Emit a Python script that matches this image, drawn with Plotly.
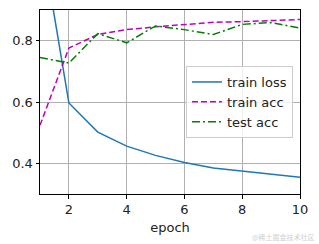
import plotly.graph_objects as go

epochs = [1, 2, 3, 4, 5, 6, 7, 8, 9, 10]
train_loss = [1.16, 0.597, 0.502, 0.456, 0.426, 0.403, 0.385, 0.375, 0.365, 0.355]
train_acc = [0.524, 0.776, 0.82, 0.836, 0.845, 0.852, 0.860, 0.862, 0.865, 0.869]
test_acc = [0.745, 0.727, 0.823, 0.793, 0.848, 0.836, 0.820, 0.853, 0.859, 0.841]
x_ticks = [2, 4, 6, 8, 10]
y_ticks = [0.4, 0.6, 0.8]

FONT = "DejaVu Sans"
fig = go.Figure()
fig.add_trace(go.Scatter(x=epochs, y=train_loss, mode="lines", name="train loss",
                         line=dict(color="#1f77b4", width=1.5)))
fig.add_trace(go.Scatter(x=epochs, y=train_acc, mode="lines", name="train acc",
                         line=dict(color="#bf00bf", width=1.5, dash="6px,3px")))
fig.add_trace(go.Scatter(x=epochs, y=test_acc, mode="lines", name="test acc",
                         line=dict(color="#008000", width=1.5, dash="8px,3px,2px,3px")))

axis_common = dict(showline=True, linecolor="black", linewidth=1, mirror=True,
                   showgrid=True, gridcolor="#b0b0b0", gridwidth=0.8,
                   ticks="outside", ticklen=3.5, tickwidth=0.8, tickcolor="black",
                   zeroline=False, tickfont=dict(family=FONT, size=13, color="#222222"))

fig.update_xaxes(range=[1, 10], tickvals=x_ticks, ticktext=[str(v) for v in x_ticks],
                 title=dict(text="epoch", font=dict(family=FONT, size=13, color="#222222"),
                            standoff=6),
                 **axis_common)
fig.update_yaxes(range=[0.3, 0.9], tickvals=y_ticks, ticktext=["0.4", "0.6", "0.8"],
                 **axis_common)

fig.update_layout(
    width=319, height=244,
    margin=dict(l=40, r=19, t=10, b=50),
    paper_bgcolor="white", plot_bgcolor="white",
    showlegend=True,
    legend=dict(x=0.973, y=0.5, xanchor="right", yanchor="middle",
                bgcolor="rgba(255,255,255,0.8)", bordercolor="#cccccc", borderwidth=1,
                font=dict(family=FONT, size=13, color="#222222"),
                tracegroupgap=0, itemwidth=30),
    annotations=[dict(text="@稀土掘金技术社区", x=1, y=0, xref="paper", yref="paper",
                      xanchor="right", yanchor="top", yshift=-36, xshift=17, showarrow=False,
                      font=dict(family="Noto Sans CJK SC", size=7, color="#d0d0d0"))],
)

fig.write_html("out.html")
